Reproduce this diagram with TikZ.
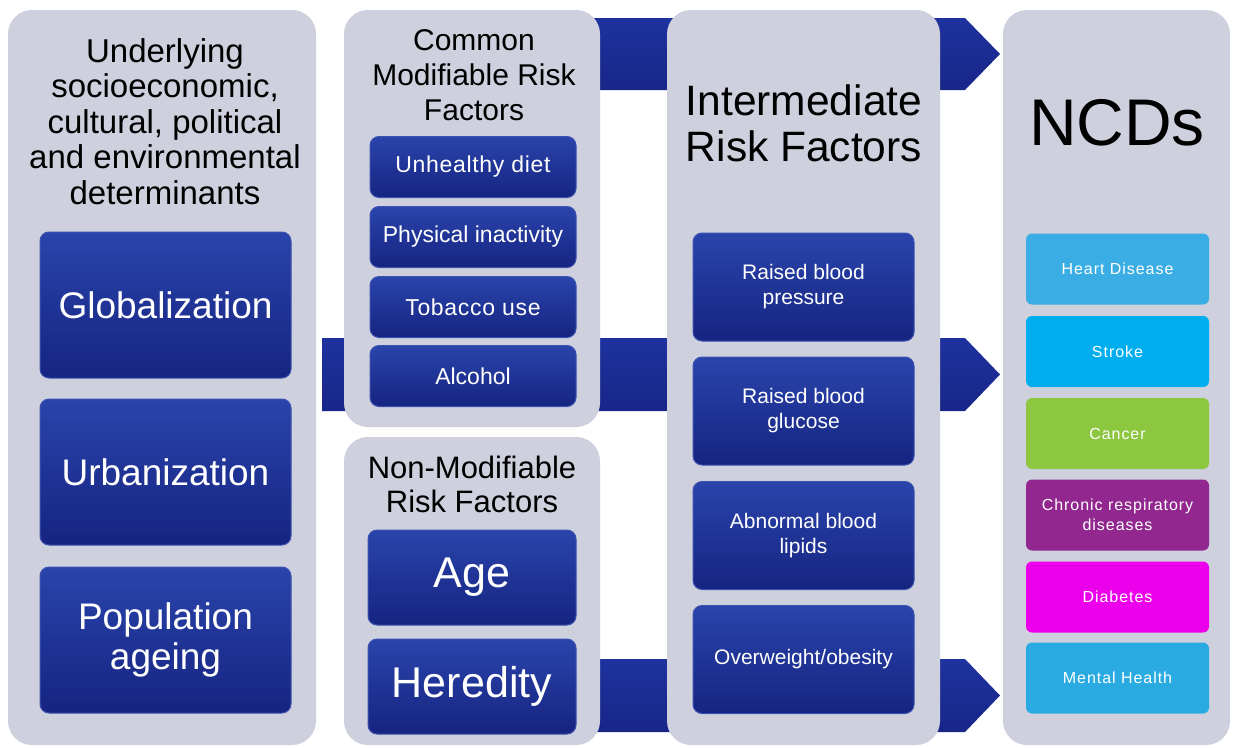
\documentclass[tikz,border=0pt]{standalone}
\usepackage{fontspec}
\setmainfont{Liberation Sans}
\newcommand\myfs[2]{\fontsize{#1}{#2}\selectfont}
\definecolor{panelc}{RGB}{206,208,221}
\definecolor{boxtop}{RGB}{42,68,172}
\definecolor{boxbot}{RGB}{22,36,128}
\definecolor{boxedge}{RGB}{60,82,176}
\definecolor{bandc}{RGB}{30,50,158}
\definecolor{bandbot}{RGB}{24,38,136}
\definecolor{heartc}{RGB}{58,173,228}
\definecolor{strokec}{RGB}{0,174,239}
\definecolor{cancerc}{RGB}{141,198,63}
\definecolor{chronc}{RGB}{146,39,143}
\definecolor{diabc}{RGB}{236,0,236}
\definecolor{mentc}{RGB}{41,171,226}
\begin{document}
\begin{tikzpicture}[x=1pt,y=-1pt,
  panel/.style={fill=panelc, rounded corners=24pt, inner sep=0pt, outer sep=0pt},
  dbox/.style={rounded corners=9pt, top color=boxtop, bottom color=boxbot, draw=boxedge, line width=1pt, text=white, align=center, inner sep=0pt, outer sep=0pt},
  cbox/.style={rounded corners=6pt, text=white, align=center, inner sep=0pt, outer sep=0pt, minimum width=183pt, minimum height=71pt, font=\myfs{16}{20}\addfontfeature{LetterSpace=6}},
  band/.style={top color=bandc, bottom color=bandbot},
  ttl/.style={align=center, text=black, inner sep=0pt}
]
\useasboundingbox (0,0) rectangle (1234,747);
\fill[white] (0,0) rectangle (1234,747);

% arrow bands
\path[band] (590,18) -- (965,18) -- (1000,54) -- (965,90) -- (590,90) -- cycle;
\path[band] (322,338) -- (965,338) -- (1000,374.5) -- (965,411) -- (322,411) -- cycle;
\path[band] (590,659) -- (965,659) -- (1000,695.5) -- (965,732) -- (590,732) -- cycle;

% panels
\node[panel, minimum width=308pt, minimum height=735pt] (p1) at (162,377.5) {};
\node[panel, minimum width=256pt, minimum height=417pt] (p2a) at (472,218.5) {};
\node[panel, minimum width=256pt, minimum height=308pt] (p2b) at (472,591) {};
\node[panel, minimum width=273pt, minimum height=735pt] (p3) at (803.5,377.5) {};
\node[panel, minimum width=227pt, minimum height=735pt] (p4) at (1116.5,377.5) {};

% titles
\node[ttl, font=\myfs{33}{35.5}] (t1) at (165,121.5) {Underlying\\socioeconomic,\\cultural, political\\and environmental\\determinants};
\node[ttl, font=\myfs{30}{35}] (t2) at (474,75) {Common\\Modifiable Risk\\Factors};
\node[ttl, font=\myfs{31}{34}] (t2b) at (472,484.5) {Non-Modifiable\\Risk Factors};
\node[ttl, font=\myfs{42.5}{46}] (t3) at (804,123) {Intermediate\\Risk Factors};
\node[ttl, font=\myfs{66}{70}] (t4) at (1117,123) {NCDs};

% panel 1 boxes
\node[dbox, minimum width=251pt, minimum height=146pt, font=\myfs{37}{40}] (glob) at (165.5,305) {Globalization};
\node[dbox, minimum width=251pt, minimum height=146pt, font=\myfs{37}{40}] (urb) at (165.5,472) {Urbanization};
\node[dbox, minimum width=251pt, minimum height=146pt, font=\myfs{37}{40}] (pop) at (165.5,640) {Population\\ageing};

% panel 2 boxes
\node[dbox, minimum width=206pt, minimum height=61pt, font=\myfs{23}{26}\addfontfeature{LetterSpace=3}] (diet) at (473,167) {Unhealthy diet};
\node[dbox, minimum width=206pt, minimum height=61pt, font=\myfs{23}{26}] (phys) at (473,237) {Physical inactivity};
\node[dbox, minimum width=206pt, minimum height=61pt, font=\myfs{23}{26}\addfontfeature{LetterSpace=3}] (tob) at (473,307) {Tobacco use};
\node[dbox, minimum width=206pt, minimum height=61pt, font=\myfs{23}{26}] (alc) at (473,376) {Alcohol};
\node[dbox, minimum width=208pt, minimum height=95pt, font=\myfs{43}{46}] (age) at (472,577.5) {Age};
\node[dbox, minimum width=208pt, minimum height=95pt, font=\myfs{43}{46}] (her) at (472,686.5) {Heredity};

% panel 3 boxes
\node[dbox, minimum width=221pt, minimum height=108pt, font=\myfs{21}{25}] (bp) at (803.5,287) {Raised blood\\pressure};
\node[dbox, minimum width=221pt, minimum height=108pt, font=\myfs{21}{25}] (glu) at (803.5,411) {Raised blood\\glucose};
\node[dbox, minimum width=221pt, minimum height=108pt, font=\myfs{21}{25}] (lip) at (803.5,535.5) {Abnormal blood\\lipids};
\node[dbox, minimum width=221pt, minimum height=108pt, font=\myfs{21}{25}] (ow) at (803.5,659.5) {Overweight/obesity};

% NCD boxes
\node[cbox, fill=heartc] (heart) at (1117.5,269) {Heart Disease};
\node[cbox, fill=strokec] (stroke) at (1117.5,351.5) {Stroke};
\node[cbox, fill=cancerc] (cancer) at (1117.5,433.5) {Cancer};
\node[cbox, fill=chronc] (chron) at (1117.5,515) {Chronic respiratory\\diseases};
\node[cbox, fill=diabc] (diab) at (1117.5,597) {Diabetes};
\node[cbox, fill=mentc] (ment) at (1117.5,678) {Mental Health};
\end{tikzpicture}
\end{document}
